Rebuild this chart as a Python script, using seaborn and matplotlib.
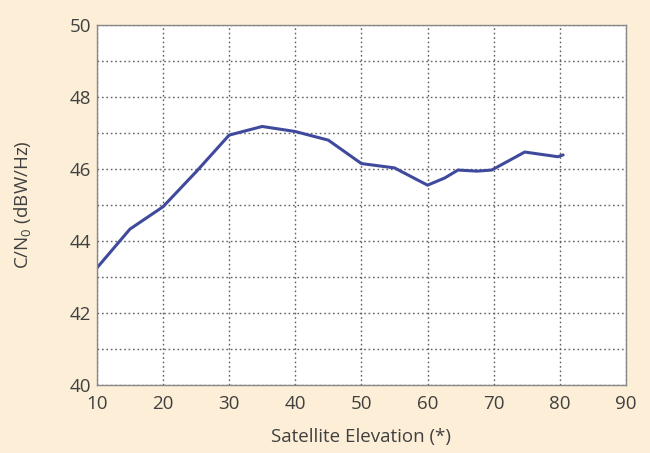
import numpy as np
import pandas as pd
import matplotlib
matplotlib.use("Agg")
import matplotlib.pyplot as plt
import seaborn as sns

# values
elevation = [10, 15, 20, 25, 30, 35, 40, 45, 50, 55, 60, 62.6, 64.6, 67.5, 69.7, 74.7, 79.7, 80.5]
cn0 = [43.25, 44.33, 44.95, 45.92, 46.94, 47.18, 47.04, 46.8, 46.15, 46.03, 45.55, 45.75,
       45.97, 45.94, 45.97, 46.47, 46.34, 46.39]

x_ticks = [10, 20, 30, 40, 50, 60, 70, 80, 90]
y_ticks = [40, 42, 44, 46, 48, 50]

df = pd.DataFrame({"Elevation": elevation, "CN0": cn0})

sns.set_style("white")
plt.rcParams['font.family'] = ['Open Sans', 'DejaVu Sans']

bg = "#fdefd7"
txt = "#404040"

fig = plt.figure(figsize=(6.5, 4.53), dpi=100, facecolor=bg)
ax = fig.add_axes([0.149, 0.150, 0.814, 0.795])
ax.set_facecolor("white")

sns.lineplot(data=df, x="Elevation", y="CN0", ax=ax, color="#3f4a9c", linewidth=2.2, sort=False)

ax.set_xlim(10, 90)
ax.set_ylim(40, 50)
ax.set_xticks(x_ticks)
ax.set_yticks(y_ticks)
ax.set_yticks(np.arange(41, 50, 2), minor=True)
ax.grid(True, which="both", linestyle=(0, (1.2, 2.0)), color="#606060", linewidth=1.0)
ax.tick_params(axis="both", which="both", length=0, labelsize=13.5, colors=txt)
ax.tick_params(axis="x", pad=7)
ax.tick_params(axis="y", pad=4)

for s in ax.spines.values():
    s.set_color("#888888")
    s.set_linewidth(1.0)

ax.set_xlabel("Satellite Elevation (*)", fontsize=13.5, color=txt, labelpad=11)
ax.set_ylabel("C/N$_\\mathregular{0}$ (dBW/Hz)", fontsize=13.5, color=txt, labelpad=26)

fig.savefig("out.png", dpi=100, facecolor=bg)
